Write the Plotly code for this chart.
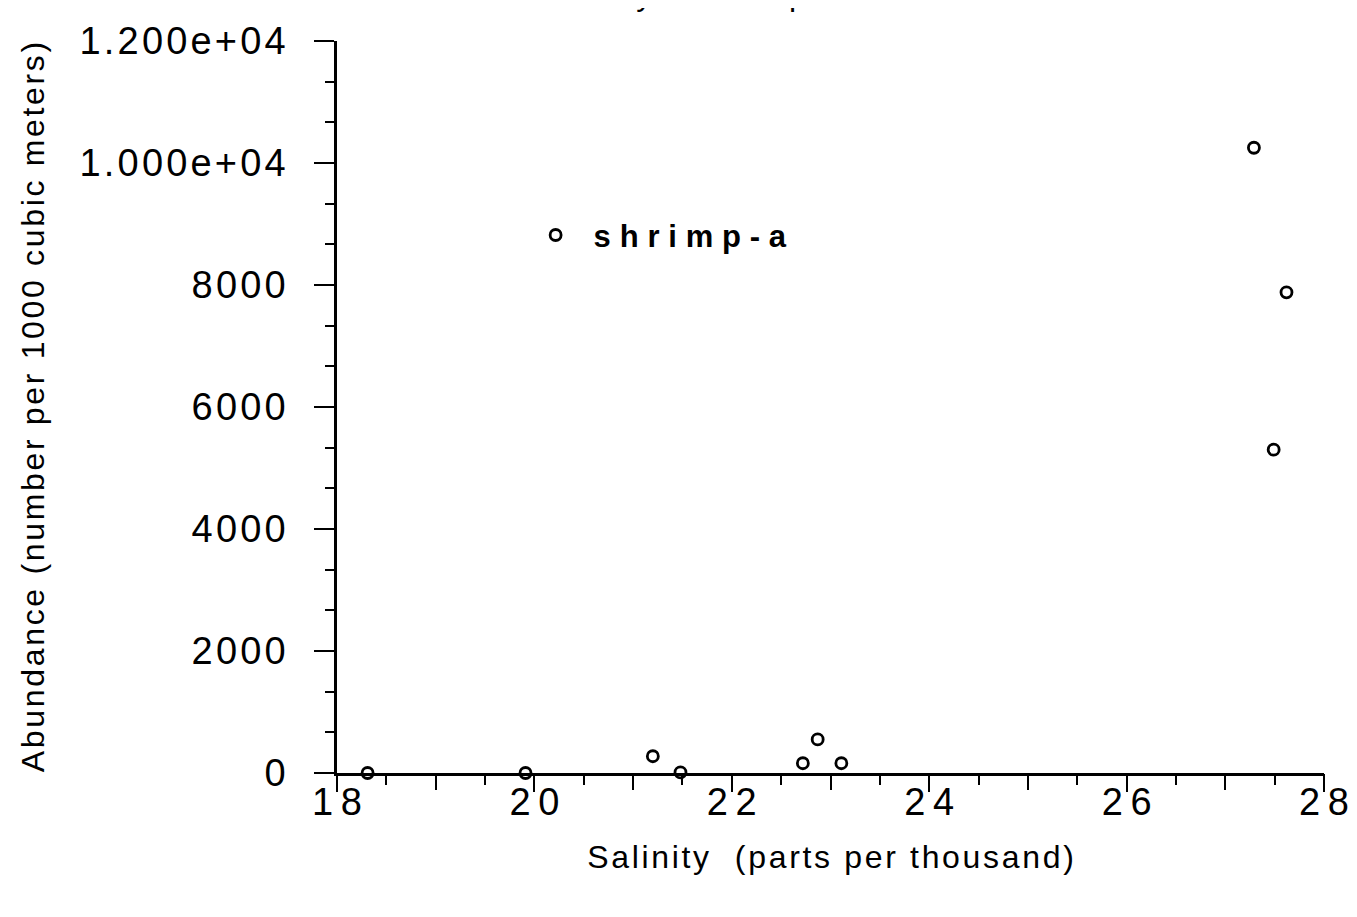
import plotly.graph_objects as go

# Data
salinity = [18.31, 19.91, 21.20, 21.48, 22.72, 22.87, 23.11, 27.29, 27.49, 27.62]
abundance = [0, 0, 275, 10, 160, 550, 160, 10250, 5300, 7880]
series_name = "shrimp-a"

y_tickvals = [0, 2000, 4000, 6000, 8000, 10000, 12000]
y_ticktext = ["0", "2000", "4000", "6000", "8000", "1.000e+04", "1.200e+04"]
x_tickvals = [18, 20, 22, 24, 26, 28]
x_ticktext = ["18", "20", "22", "24", "26", "28"]

title_text = "Salinity vs. shrimp-a abundance"
x_title = "Salinity  (parts per thousand)"
y_title = "Abundance (number per 1000 cubic meters)"

FONT = "Liberation Sans, Arial, sans-serif"
HAIR = "\u200A"
THIN = "\u2009"


def spaced(s, sep):
    return sep.join(s)


fig = go.Figure()
fig.add_trace(go.Scatter(
    x=salinity, y=abundance, mode="markers",
    name=spaced(series_name, THIN + HAIR),
    marker=dict(symbol="circle-open", size=11, color="black", line=dict(width=2.8, color="black")),
    cliponaxis=False,
))

# secondary axis to draw the unit ticks on the x axis
fig.add_trace(go.Scatter(x=[18, 28], y=[None, None], xaxis="x2", showlegend=False, hoverinfo="skip"))

fig.update_layout(
    width=1357, height=917,
    margin=dict(l=329, r=41, t=23, b=152),
    paper_bgcolor="white", plot_bgcolor="white",
    font=dict(family=FONT, color="black"),
    showlegend=True,
    legend=dict(x=0.183, y=0.7345, xanchor="left", yanchor="middle",
                font=dict(size=31, family=FONT, weight="bold"),
                bgcolor="rgba(0,0,0,0)", itemsizing="trace", itemwidth=66,
                borderwidth=0),
    xaxis=dict(range=[18, 28], tickvals=x_tickvals,
               ticktext=[spaced(t, THIN) for t in x_ticktext],
               ticks="outside", ticklen=16, tickwidth=2, tickcolor="black",
               showline=True, linecolor="black", linewidth=2.5,
               showgrid=False, zeroline=False,
               minor=dict(dtick=0.5, tick0=18, ticks="outside", ticklen=9, tickwidth=2, tickcolor="black", showgrid=False),
               tickfont=dict(size=38, family=FONT),
               ticklabelstandoff=-22,
               title=dict(text=spaced(x_title, HAIR), font=dict(size=32, family=FONT), standoff=24),
               anchor="y"),
    xaxis2=dict(range=[18, 28], overlaying="x", side="bottom", anchor="y",
                dtick=1, tick0=18, ticks="outside", ticklen=16, tickwidth=2, tickcolor="black",
                showticklabels=False, showgrid=False, zeroline=False, showline=False),
    yaxis=dict(range=[0, 12000], tickvals=y_tickvals,
               ticktext=[spaced(t, HAIR) for t in y_ticktext],
               ticks="outside", ticklen=20, tickwidth=2, tickcolor="black",
               showline=True, linecolor="black", linewidth=2.5,
               showgrid=False, zeroline=False,
               minor=dict(dtick=2000/3, tick0=0, ticks="outside", ticklen=9, tickwidth=2, tickcolor="black", showgrid=False),
               tickfont=dict(size=38, family=FONT),
               ticklabelstandoff=21,
               title=dict(text=spaced(y_title, HAIR), font=dict(size=32, family=FONT), standoff=26)),
    annotations=[dict(text=title_text, xref="paper", yref="paper", x=0.445, y=1.037,
                      xanchor="center", yanchor="bottom", showarrow=False,
                      font=dict(size=32, family=FONT))],
)

fig.write_html("out.html")
